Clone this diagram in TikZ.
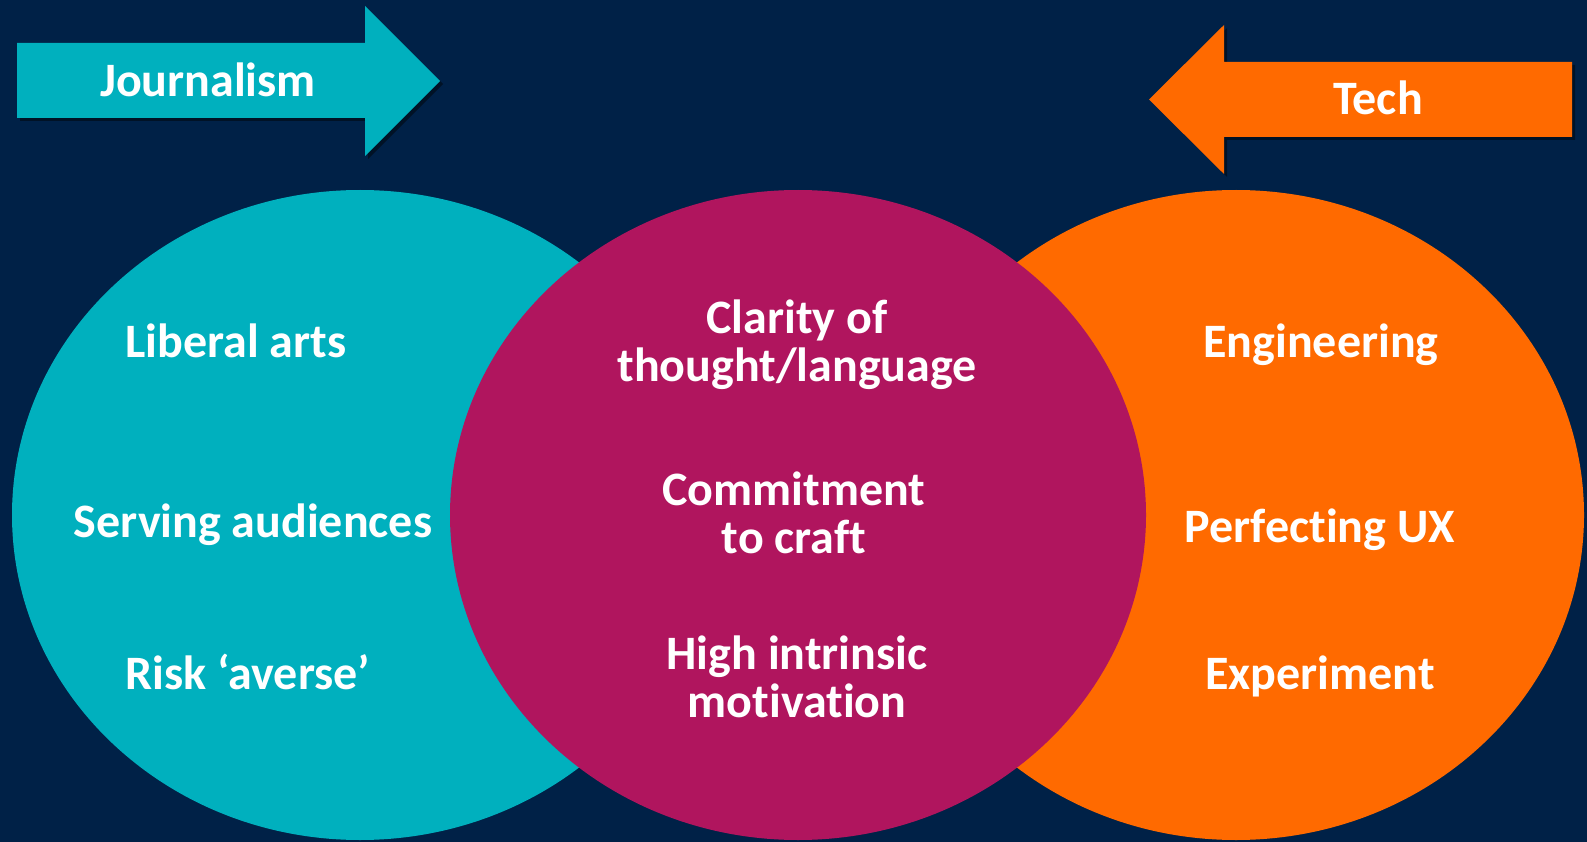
\documentclass[tikz,border=0pt]{standalone}
\usepackage{fontspec}
\setmainfont{Carlito}[Ligatures=NoCommon]
\usetikzlibrary{shapes.geometric,shadows}

\definecolor{navy}{RGB}{0,33,71}
\definecolor{jteal}{RGB}{0,176,190}
\definecolor{craft}{RGB}{176,21,94}
\definecolor{techorange}{RGB}{255,106,0}

\tikzset{
  blob/.style={shape=ellipse, minimum width=696pt, minimum height=650pt, inner sep=0pt},
  point/.style={text=white, font=\fontsize{48}{48}\selectfont\bfseries, align=center, anchor=base, inner sep=0pt},
  banner/.style={drop shadow={shadow xshift=3pt, shadow yshift=-3pt, opacity=.45, fill=black}},
}

\begin{document}
\begin{tikzpicture}[x=1pt, y=-1pt]
  \fill[navy] (0,0) rectangle (1587,842);
  \useasboundingbox (0,0) rectangle (1587,842);

  % arrows
  \fill[jteal, banner] (17,43) -- (365,43) -- (365,6) -- (440,81) -- (365,156) -- (365,118) -- (17,118) -- cycle;
  \fill[techorange, banner] (1572,62) -- (1224,62) -- (1224,25) -- (1149,99.5) -- (1224,174) -- (1224,137) -- (1572,137) -- cycle;
  \node[point] (journalism) at (208,97) {Journalism};
  \node[point] (tech) at (1378,115) {Tech};

  % circles
  \node[blob, fill=jteal]      (left)  at (360,515)  {};
  \node[blob, fill=techorange] (right) at (1236,515) {};
  \node[blob, fill=craft]      (mid)   at (798,515)  {};

  \node[point] (liberal) at (236,357) {Liberal arts};
  \node[point] (serving) at (253,537) {Serving audiences};
  \node[point] (risk)    at (248,689) {Risk ‘averse’};

  % base anchor sits on the last line here
  \node[point] (clarity) at (797,381) {Clarity of\\thought/language};
  \node[point] (commit)  at (794,553) {Commitment\\to craft};
  \node[point] (high)    at (797,717) {High intrinsic\\motivation};

  \node[point] (engineering) at (1321,357) {Engineering};
  \node[point] (perfecting)  at (1320,542) {Perfecting UX};
  \node[point] (experiment)  at (1320,689) {Experiment};
\end{tikzpicture}
\end{document}
